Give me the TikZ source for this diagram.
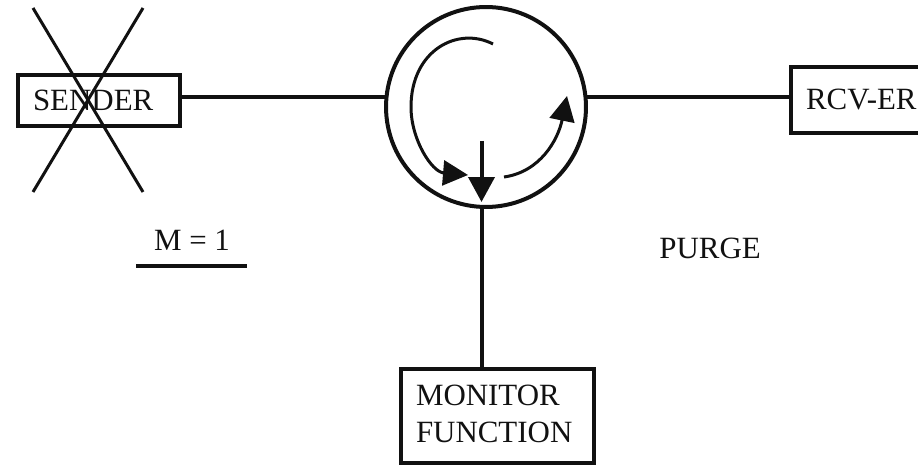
\documentclass[tikz,border=0pt]{standalone}
\usepackage{fontspec}
\setmainfont{Liberation Serif}
\usetikzlibrary{arrows.meta}
\definecolor{inkblack}{HTML}{111111}

\begin{document}
\begin{tikzpicture}[
  x=0.02cm, y=-0.02cm,
  every node/.style={font=\fontsize{17.6}{21}\selectfont, text=inkblack},
  unitbox/.style={rectangle, draw=inkblack, line width=0.08cm, inner xsep=0.3cm, inner ysep=0pt, align=left, minimum height=#1},
  wire/.style={draw=inkblack, line width=0.08cm},
  flow/.style={draw=inkblack, line width=0.06cm, -{Triangle[length=0.5cm, width=0.5cm]}},
]
\useasboundingbox (0,0) rectangle (918,465);
\clip (0,0) rectangle (918,465);

\node[unitbox=1.02cm, text width=2.64cm] (sender) at (99,100.5) {SENDER};
\node[unitbox=1.32cm, text width=2.38cm] (rcver) at (865.5,100) {RCV-ER};
\node[unitbox=1.88cm, text width=3.26cm] (monitor) at (497.5,416) {MONITOR\\FUNCTION\rule[-0.08cm]{0pt}{0pt}};
\node[circle, draw=inkblack, line width=0.08cm, minimum size=4cm, inner sep=0pt] (switch) at (486,107) {};

% ports on the circle
\coordinate (portl) at (386.5,97);
\coordinate (portr) at (585.5,97);
\coordinate (portb) at (482,207);
\draw[wire] (sender.east |- portl) -- (portl);
\draw[wire] (portr) -- (rcver.west |- portr);
\draw[wire] (portb) -- (monitor.north -| portb);

% flows inside the circle
\coordinate (drop) at (481.5,141);
\coordinate (droptip) at (481.5,202);
\draw[wire, -{Triangle[length=0.5cm, width=0.52cm]}] (drop) -- (droptip);
\coordinate (leftstart) at (493,44);
\coordinate (lefttop) at (411,107);
\coordinate (lefttip) at (468,175);
\draw[flow] (leftstart) .. controls (458,26) and (411,50) .. (lefttop) .. controls (411,140) and (432,172) .. (lefttip);
\coordinate (rightstart) at (504,177);
\coordinate (righttip) at (567,96);
\draw[flow] (rightstart) .. controls (540,172) and (558,140) .. (righttip);

% cross over the sender
\coordinate (crossa) at (33,8);
\coordinate (crossb) at (143,192);
\coordinate (crossc) at (143,8);
\coordinate (crossd) at (33,192);
\draw[draw=inkblack, line width=0.06cm] (crossa) -- (crossb);
\draw[draw=inkblack, line width=0.06cm] (crossc) -- (crossd);

\node[anchor=base] (mlabel) at (192,251) {M = 1};
\coordinate (barl) at (136,266);
\coordinate (barr) at (247,266);
\draw[wire] (barl) -- (barr);
\node[anchor=base west, inner sep=0pt] (purge) at (659,259) {PURGE};
\end{tikzpicture}
\end{document}
